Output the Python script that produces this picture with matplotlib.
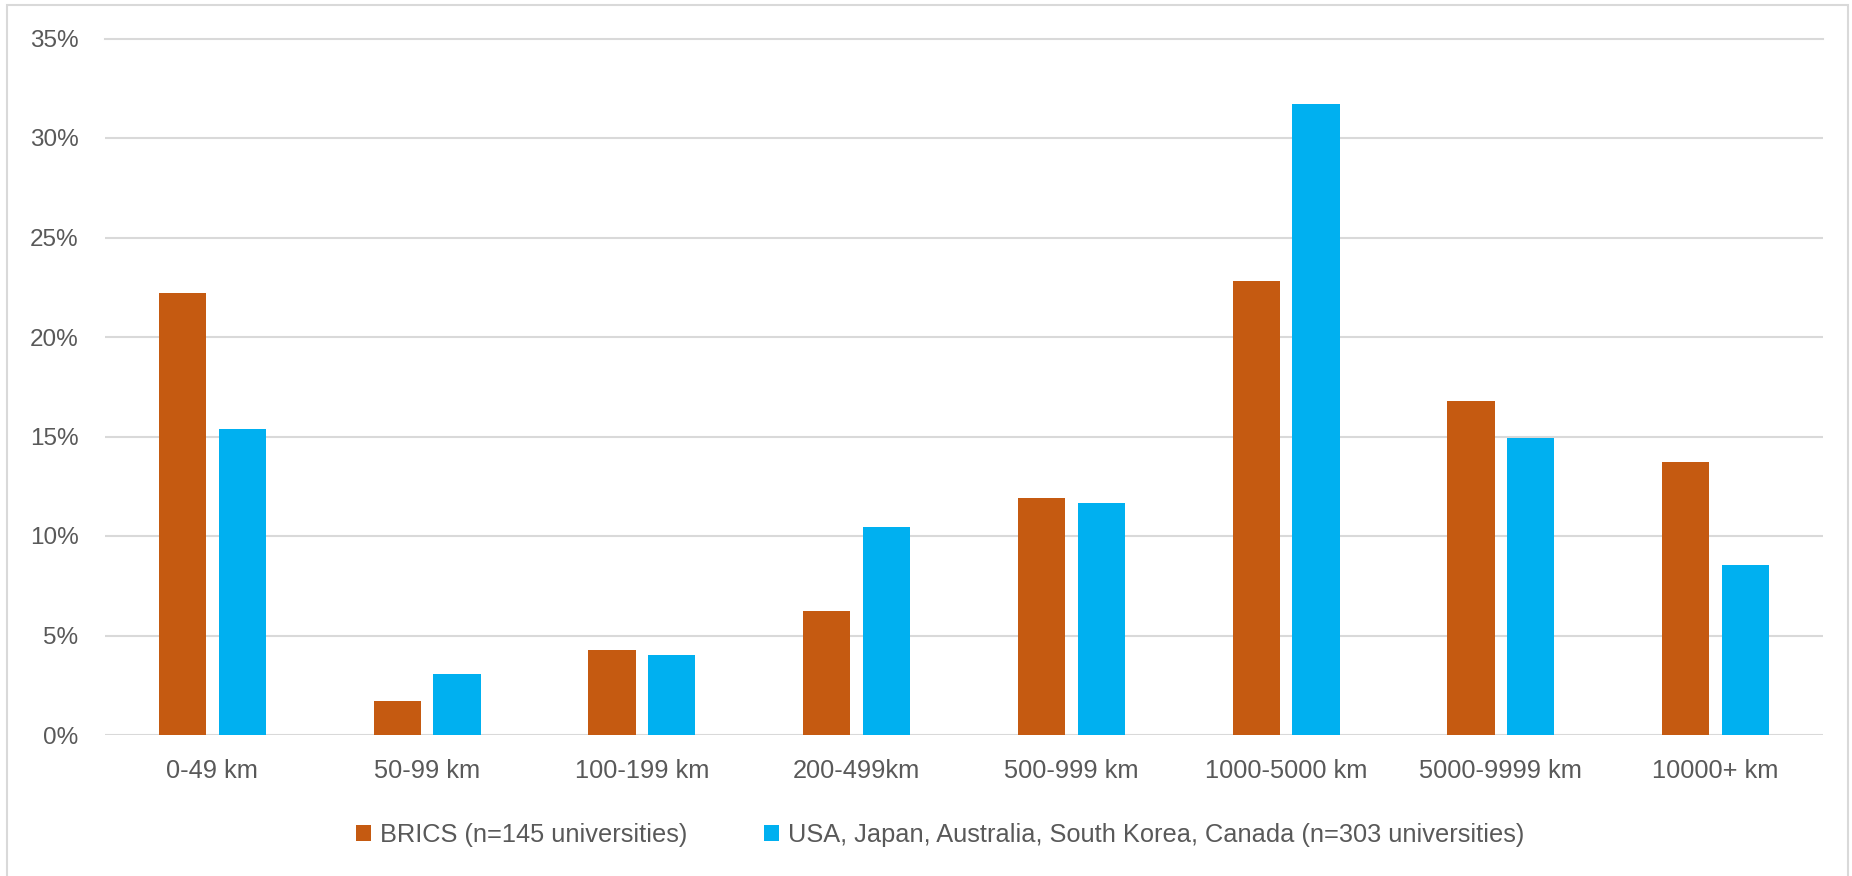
import numpy as np
import matplotlib
matplotlib.use('Agg')
import matplotlib.pyplot as plt
from matplotlib.patches import Rectangle
from matplotlib.ticker import FuncFormatter

plt.rcParams['font.family'] = ['Liberation Sans', 'DejaVu Sans']

categories = ['0-49 km', '50-99 km', '100-199 km', '200-499km', '500-999 km',
              '1000-5000 km', '5000-9999 km', '10000+ km']
brics = [22.2, 1.7, 4.25, 6.25, 11.9, 22.8, 16.8, 13.7]
others = [15.4, 3.05, 4.0, 10.45, 11.65, 31.7, 14.9, 8.55]
labels = ['BRICS (n=145 universities)',
          'USA, Japan, Australia, South Korea, Canada (n=303 universities)']
yticks = [0, 5, 10, 15, 20, 25, 30, 35]

c_brics = '#C55A11'
c_other = '#00B0F0'
txt = '#595959'

fig = plt.figure(figsize=(18.52, 8.76), dpi=100)
ax = fig.add_axes([105/1852, 1 - 735/876, (1823 - 105)/1852, (735 - 38.5)/876])

x = np.arange(len(categories))
w = 0.22
off = 0.139
b1 = ax.bar(x - off, brics, w, color=c_brics, zorder=3, label=labels[0])
b2 = ax.bar(x + off, others, w, color=c_other, zorder=3, label=labels[1])

ax.set_xlim(-0.5, len(categories) - 0.5)
ax.set_ylim(0, 35)
ax.set_yticks(yticks)
ax.yaxis.set_major_formatter(FuncFormatter(lambda v, p: '%d%%' % v))
ax.set_xticks(x)
ax.set_xticklabels(categories)
ax.tick_params(axis='both', length=0, labelcolor=txt)
ax.tick_params(axis='y', pad=19, labelsize=17.5)
ax.tick_params(axis='x', pad=17, labelsize=18.3)
ax.grid(axis='y', color='#d9d9d9', linewidth=1.5, zorder=0)
ax.set_axisbelow(True)
for s in ax.spines.values():
    s.set_visible(False)
ax.get_ygridlines()[-1].set_clip_on(False)

fig.legend(handles=[b1, b2], loc='center', bbox_to_anchor=(940/1852, 1 - 835/876),
           ncol=2, frameon=False, fontsize=18.3, labelcolor=txt,
           handlelength=0.6, handleheight=0.6, handletextpad=0.35,
           columnspacing=3.0)

# chart border
fig.patches.append(Rectangle((7/1852, -0.05), (1848 - 7)/1852, 1.05 - 5/876,
                             transform=fig.transFigure, fill=False,
                             edgecolor='#d9d9d9', linewidth=1.5))

fig.savefig('out.png', dpi=100)
